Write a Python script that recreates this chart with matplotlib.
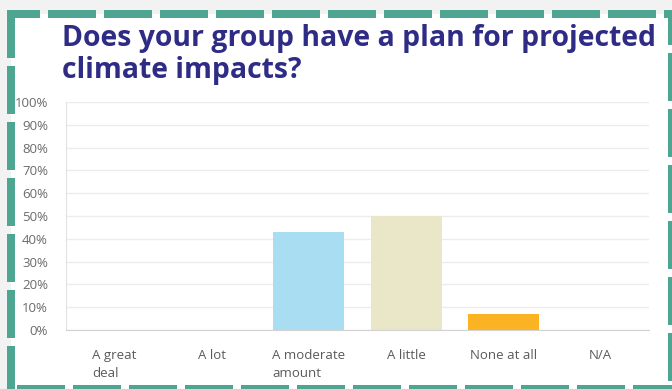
import matplotlib
matplotlib.use("Agg")
import matplotlib.pyplot as plt
from matplotlib.lines import Line2D
from matplotlib.patches import Rectangle
from matplotlib.ticker import FuncFormatter, MultipleLocator
import numpy as np

# ── Survey responses ─────────────────────────────────────────────────────────
categories = ["A great\ndeal", "A lot", "A moderate\namount", "A little", "None at all", "N/A"]
percents   = [0.0, 0.0, 42.86, 50.0, 7.14, 0.0]
bar_colors = ["#a9def2", "#a9def2", "#a9def2", "#e9e7c8", "#fbb323", "#dddddd"]

TITLE = "Does your group have a plan for projected\nclimate impacts?"

W, H = 672, 389
fig = plt.figure(figsize=(W / 100, H / 100), dpi=100, facecolor="#f2f2f2")

# ── Frame: white card with a thick dashed teal border (pixel coords) ─────────
bg = fig.add_axes([0, 0, 1, 1], zorder=0)
bg.set_xlim(0, W)
bg.set_ylim(H, 0)
bg.axis("off")
bg.add_patch(Rectangle((11, 13.5), W, H, facecolor="white", edgecolor="none"))

teal = "#4ea692"
lw = 8 * 0.72
for (x0, y0, x1, y1, off) in [
    (7, 13.5, 690, 13.5, 15),    # top
    (11, 10, 11, 400, 0),        # left
    (672, 10, 672, 400, 13),     # right
    (17, 389, 690, 389, 0),      # bottom
]:
    bg.add_line(Line2D([x0, x1], [y0, y1], color=teal, linewidth=lw,
                       linestyle=(off / 8, (6, 1)), solid_capstyle="butt",
                       dash_capstyle="butt"))

bg.text(62, 24, TITLE, ha="left", va="top", fontsize=20.4, fontweight="bold",
        family="Open Sans", color="#2e2c85", linespacing=1.15)

# ── Bar chart ─────────────────────────────────────────────────────────────────
ax = fig.add_axes([66 / W, 59 / H, 583 / W, 228 / H], zorder=1)
ax.set_facecolor("none")
x = np.arange(len(categories))
ax.bar(x, percents, width=0.73, color=bar_colors, zorder=2)

ax.set_xlim(-0.5, len(categories) - 0.5)
ax.set_ylim(0, 100)
ax.yaxis.set_major_locator(MultipleLocator(10))
ax.yaxis.set_major_formatter(FuncFormatter(lambda v, _: f"{v:.0f}%"))
ax.grid(axis="y", color="#ececec", linewidth=1.0, zorder=0)
ax.set_axisbelow(True)

ax.set_xticks(x)
ax.set_xticklabels(categories, multialignment="left", linespacing=1.45)
ax.tick_params(axis="x", length=0, pad=14, labelsize=9.5, labelcolor="#5a5a5a")
ax.tick_params(axis="y", length=0, pad=13, labelsize=9.5, labelcolor="#6b6b6b")
for lab in ax.get_xticklabels() + ax.get_yticklabels():
    lab.set_family("Open Sans")

for side in ("top", "right"):
    ax.spines[side].set_visible(False)
ax.spines["left"].set_color("#e2e2e2")
ax.spines["bottom"].set_color("#d2d2d2")

fig.savefig("out.png", dpi=100, facecolor=fig.get_facecolor())
